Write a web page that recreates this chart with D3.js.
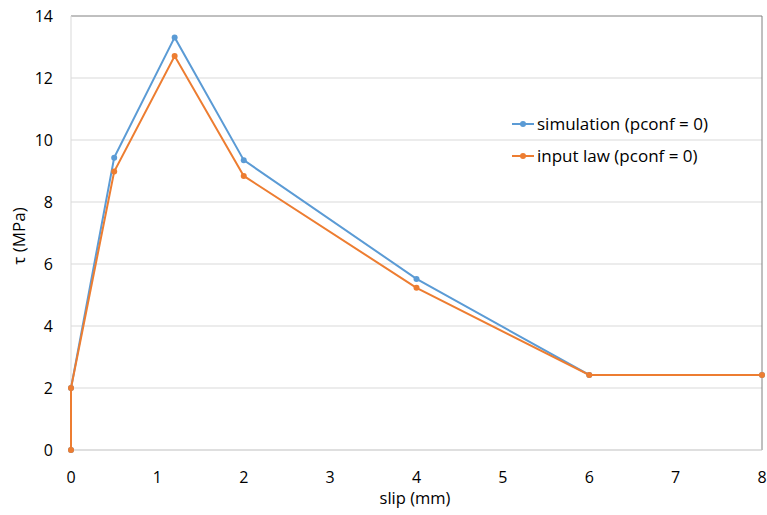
<!DOCTYPE html>
<html>
<head>
<meta charset="utf-8">
<script src="https://cdn.jsdelivr.net/npm/d3@7"></script>
<style>
  body { margin: 0; background: #fff; }
  svg text { font-family: "Open Sans", "Noto Sans", sans-serif; fill: #000; }
</style>
</head>
<body>
<svg id="chart" width="767" height="515"></svg>
<script>
// data
var slip = [0, 0, 0.5, 1.2, 2, 4, 6, 8];
var simulation = [0, 2, 9.43, 13.31, 9.35, 5.52, 2.42, 2.42];
var inputLaw = [0, 2, 8.98, 12.71, 8.84, 5.23, 2.42, 2.42];
var seriesNames = ["simulation (pconf = 0)", "input law (pconf = 0)"];
var colors = ["#5b9bd5", "#ed7d31"];
var xTicks = [0, 1, 2, 3, 4, 5, 6, 7, 8];
var yTicks = [0, 2, 4, 6, 8, 10, 12, 14];

var svg = d3.select("#chart");

var x = d3.scaleLinear().domain([0, 8]).range([71, 762]);
var y = d3.scaleLinear().domain([0, 14]).range([450, 16]);

// horizontal gridlines
svg.selectAll(".grid")
  .data(yTicks.slice(1, -1))
  .enter().append("line")
    .attr("x1", x(0)).attr("x2", x(8))
    .attr("y1", d => y(d)).attr("y2", d => y(d))
    .style("stroke", "#d9d9d9")
    .style("stroke-width", 1);

// frame edges
svg.append("line")
  .attr("x1", x(0)).attr("x2", x(8)).attr("y1", y(14)).attr("y2", y(14))
  .style("stroke", "#808080");
svg.append("line")
  .attr("x1", x(8)).attr("x2", x(8)).attr("y1", y(14)).attr("y2", y(0))
  .style("stroke", "#808080");
svg.append("line")
  .attr("x1", x(0)).attr("x2", x(0)).attr("y1", y(14)).attr("y2", y(0))
  .style("stroke", "#d9d9d9");
svg.append("line")
  .attr("x1", x(0)).attr("x2", x(8)).attr("y1", y(0)).attr("y2", y(0))
  .style("stroke", "#bfbfbf");

// tick labels
svg.selectAll(".ylab")
  .data(yTicks)
  .enter().append("text")
    .attr("x", 53)
    .attr("y", d => y(d) + 6)
    .attr("text-anchor", "end")
    .style("font-size", "16px")
    .text(d => d);

svg.selectAll(".xlab")
  .data(xTicks)
  .enter().append("text")
    .attr("x", d => x(d))
    .attr("y", 483)
    .attr("text-anchor", "middle")
    .style("font-size", "16px")
    .text(d => d);

// axis titles
svg.append("text")
  .attr("x", 415).attr("y", 504)
  .attr("text-anchor", "middle")
  .style("font-size", "16.5px")
  .text("slip (mm)");

svg.append("text")
  .attr("transform", "translate(25,236) rotate(-90)")
  .attr("text-anchor", "middle")
  .style("font-size", "17px")
  .text("τ (MPa)");

// series lines + markers
var line = d3.line()
  .x(d => x(d[0]))
  .y(d => y(d[1]));

[simulation, inputLaw].forEach(function(vals, i) {
  var pts = slip.map((s, j) => [s, vals[j]]);
  svg.append("path")
    .datum(pts)
    .attr("d", line)
    .style("fill", "none")
    .style("stroke", colors[i])
    .style("stroke-width", 2);
  svg.selectAll(".pt" + i)
    .data(pts)
    .enter().append("circle")
      .attr("cx", d => x(d[0]))
      .attr("cy", d => y(d[1]))
      .attr("r", 3)
      .style("fill", colors[i]);
});

// legend
seriesNames.forEach(function(name, i) {
  var ly = 124 + i * 32;
  svg.append("line")
    .attr("x1", 512).attr("x2", 534).attr("y1", ly).attr("y2", ly)
    .style("stroke", colors[i]).style("stroke-width", 2);
  svg.append("circle")
    .attr("cx", 523).attr("cy", ly).attr("r", 3)
    .style("fill", colors[i]);
  svg.append("text")
    .attr("x", 537).attr("y", ly + 6)
    .style("font-size", "17px")
    .text(name);
});
</script>
</body>
</html>
